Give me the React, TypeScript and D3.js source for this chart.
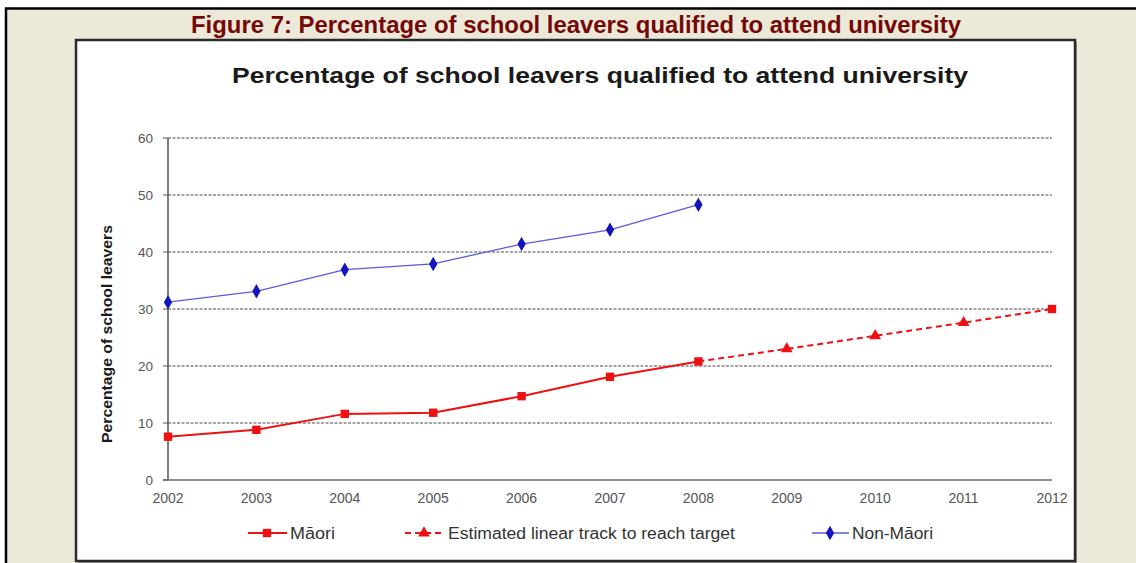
import React from "react";
import * as d3 from "d3";

const years = [2002, 2003, 2004, 2005, 2006, 2007, 2008, 2009, 2010, 2011, 2012];
const maori = [7.6, 8.8, 11.6, 11.8, 14.7, 18.1, 20.8, null, null, null, 30.0];
const estimated = [null, null, null, null, null, null, 20.8, 23.0, 25.3, 27.6, 30.0];
const nonMaori = [31.2, 33.1, 36.9, 37.9, 41.4, 43.9, 48.3, null, null, null, null];
const yTicks = [0, 10, 20, 30, 40, 50, 60];

const captionText = "Figure 7: Percentage of school leavers qualified to attend university";
const titleText = "Percentage of school leavers qualified to attend university";
const yAxisTitle = "Percentage of school leavers";
const legendLabels = ["Māori", "Estimated linear track to reach target", "Non-Māori"];

const FONT = "'Liberation Sans', Arial, sans-serif";

export default function App() {
  const x = d3.scaleLinear().domain([2002, 2012]).range([168, 1052]);
  const y = d3.scaleLinear().domain([0, 60]).range([480, 138]);

  const line = d3
    .line<number | null>()
    .defined((d) => d !== null)
    .x((_, i) => x(years[i]))
    .y((d) => y(d as number));

  const sq = d3.symbol().type(d3.symbolSquare).size(70)()!;
  const tri = d3.symbol().type(d3.symbolTriangle).size(60)()!;
  const dia = d3.symbol().type(d3.symbolDiamond).size(60)()!;

  const red = "#ee1111";
  const blue = "#1515c0";

  const legendY = 533;

  return (
    <svg
      width={1136}
      height={563}
      style={{ position: "absolute", left: 0, top: 0, background: "#ffffff" }}
      fontFamily={FONT}
    >
      {/* outer beige panel */}
      <rect x={6} y={8.5} width={1140} height={570} fill="#ece9d8" stroke="#000" strokeWidth={2.5} />

      {/* caption */}
      <text
        x={576}
        y={33}
        textAnchor="middle"
        fontSize={24}
        fontWeight="bold"
        fill="#740808"
        textLength={770}
        lengthAdjust="spacingAndGlyphs"
      >
        {captionText}
      </text>

      {/* chart box */}
      <rect x={78} y={42} width={999} height={521} fill="#9a9a9a" />
      <rect x={76} y={40} width={999} height={521} fill="#ffffff" stroke="#2a2a2a" strokeWidth={2.5} />

      {/* chart title */}
      <text
        x={600}
        y={83}
        textAnchor="middle"
        fontSize={22}
        fontWeight="bold"
        fill="#1a1a1a"
        textLength={736}
        lengthAdjust="spacingAndGlyphs"
      >
        {titleText}
      </text>

      {/* gridlines */}
      {yTicks.map((t) => (
        <g key={t}>
          {t > 0 && (
            <line
              x1={x(2002)}
              x2={x(2012)}
              y1={y(t)}
              y2={y(t)}
              stroke="#4a4a4a"
              strokeWidth={1}
              strokeDasharray="3,1.5"
            />
          )}
          <line x1={163} x2={x(2002)} y1={y(t)} y2={y(t)} stroke="#555" strokeWidth={1} />
          <text
            x={153}
            y={y(t)}
            dy="0.35em"
            textAnchor="end"
            fontSize={13.5}
            fill="#555"
          >
            {t}
          </text>
        </g>
      ))}

      {/* axes */}
      <line x1={x(2002)} x2={x(2002)} y1={y(60)} y2={y(0)} stroke="#555" strokeWidth={1.5} />
      <line x1={163} x2={x(2012)} y1={y(0)} y2={y(0)} stroke="#666" strokeWidth={1.5} />

      {/* x tick labels */}
      {years.map((yr) => (
        <text key={yr} x={x(yr)} y={503} textAnchor="middle" fontSize={14} fill="#555">
          {yr}
        </text>
      ))}

      {/* y axis title */}
      <text
        transform={`translate(112,334) rotate(-90)`}
        textAnchor="middle"
        fontSize={15.5}
        fontWeight="bold"
        fill="#1a1a1a"
        textLength={218}
        lengthAdjust="spacingAndGlyphs"
      >
        {yAxisTitle}
      </text>

      {/* series lines */}
      <path d={line(nonMaori) ?? ""} fill="none" stroke="#5a5ae0" strokeWidth={1.3} />
      <path d={line(estimated) ?? ""} fill="none" stroke={red} strokeWidth={2} strokeDasharray="6,4" />
      <path d={line(maori) ?? ""} fill="none" stroke={red} strokeWidth={2} />

      {/* markers */}
      {nonMaori.map((v, i) =>
        v === null ? null : (
          <path key={"n" + i} d={dia} transform={`translate(${x(years[i])},${y(v)})`} fill={blue} />
        )
      )}
      {estimated.map((v, i) =>
        v === null || maori[i] !== null ? null : (
          <path key={"e" + i} d={tri} transform={`translate(${x(years[i])},${y(v)})`} fill={red} />
        )
      )}
      {maori.map((v, i) =>
        v === null ? null : (
          <path key={"m" + i} d={sq} transform={`translate(${x(years[i])},${y(v)})`} fill={red} />
        )
      )}

      {/* legend */}
      <g>
        <line x1={248} x2={287} y1={legendY} y2={legendY} stroke={red} strokeWidth={2} />
        <path d={sq} transform={`translate(267,${legendY})`} fill={red} />
        <text x={290} y={legendY} dy="0.36em" fontSize={16} fill="#333" textLength={45} lengthAdjust="spacingAndGlyphs">
          {legendLabels[0]}
        </text>

        <line x1={405} x2={442} y1={legendY} y2={legendY} stroke={red} strokeWidth={2} strokeDasharray="6,4" />
        <path d={tri} transform={`translate(424,${legendY})`} fill={red} />
        <text x={448} y={legendY} dy="0.36em" fontSize={16} fill="#333" textLength={287} lengthAdjust="spacingAndGlyphs">
          {legendLabels[1]}
        </text>

        <line x1={812} x2={849} y1={legendY} y2={legendY} stroke="#5a5ae0" strokeWidth={1.5} />
        <path d={dia} transform={`translate(830,${legendY})`} fill={blue} />
        <text x={852} y={legendY} dy="0.36em" fontSize={16} fill="#333" textLength={81} lengthAdjust="spacingAndGlyphs">
          {legendLabels[2]}
        </text>
      </g>
    </svg>
  );
}
